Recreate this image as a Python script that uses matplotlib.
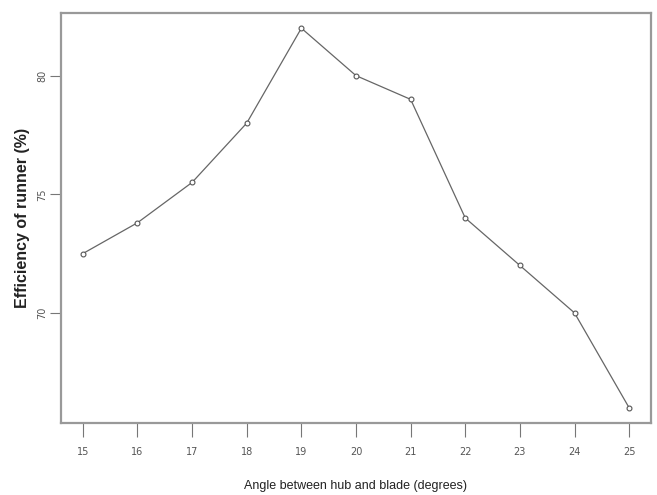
import matplotlib
matplotlib.use("Agg")
import matplotlib.pyplot as plt

angle = [15, 16, 17, 18, 19, 20, 21, 22, 23, 24, 25]
efficiency = [72.5, 73.8, 75.5, 78.0, 82.0, 80.0, 79.0, 74.0, 72.0, 70.0, 66.0]
xticks = [15, 16, 17, 18, 19, 20, 21, 22, 23, 24, 25]
yticks = [70, 75, 80]

fig = plt.figure(figsize=(6.57, 4.95), dpi=100)
ax = fig.add_axes([61/657, 1-423/495, (651-61)/657, (423-13)/495])

ax.plot(angle, efficiency, color="#666666", lw=0.9, marker="o", ms=3.5,
        mfc="white", mec="#555555", mew=0.8)

ax.set_xlim(14.6, 25.4)
ax.set_ylim(65.36, 82.64)
ax.set_xticks(xticks)
ax.set_yticks(yticks)

tickfont = ['Liberation Sans Narrow', 'DejaVu Sans']
ax.set_xticklabels([str(v) for v in xticks], family=tickfont, fontsize=7, color="#555555")
ax.set_yticklabels([str(v) for v in yticks], family=tickfont, fontsize=7, color="#555555",
                   rotation=90, va="center")
ax.tick_params(axis="x", length=10, width=0.8, color="#777777", pad=7)
ax.tick_params(axis="y", length=8, width=0.8, color="#777777", pad=2)

for s in ax.spines.values():
    s.set_color("#999999")
    s.set_linewidth(1.6)

ax.set_xlabel("Angle between hub and blade (degrees)", family=['Liberation Sans', 'DejaVu Sans'],
              fontsize=9, color="#222222", labelpad=17)
ax.set_ylabel("Efficiency of runner (%)", family=['Liberation Sans', 'DejaVu Sans'],
              fontsize=11.5, fontweight="bold", color="#222222", labelpad=5)

fig.savefig("out.png", dpi=100)
